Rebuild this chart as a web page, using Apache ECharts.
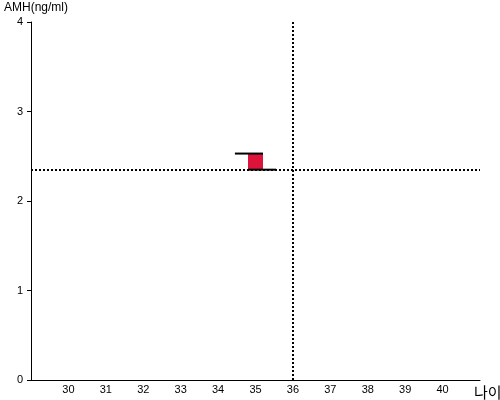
<!DOCTYPE html>
<html><head><meta charset="utf-8">
<script src="https://cdn.jsdelivr.net/npm/echarts@6/dist/echarts.min.js"></script>
<style>html,body{margin:0;padding:0;background:#fff}#c{width:500px;height:400px}</style>
</head><body><div id="c"></div>
<script>
const xTicks = [30,31,32,33,34,35,36,37,38,39,40];
const yTicks = [0,1,2,3,4];
const refAge = 36;
const refAMH = 2.35;
// red box: [ageStart, ageEnd, amhLow, amhHigh]
const boxes = [[34.8, 35.2, 2.35, 2.53]];
const topLine = [[34.45, 2.53], [35.2, 2.53]];
const bottomLine = [[34.8, 2.35], [35.55, 2.35]];

const chart = echarts.init(document.getElementById('c'), null, {renderer:'canvas'});
const font = 'Arial, "Liberation Sans", sans-serif';
chart.setOption({
  animation:false,
  grid:{left:31, right:20, top:22, bottom:20, containLabel:false, outerBoundsMode:'none'},
  xAxis:{
    type:'value', min:29, max:41, interval:1,
    name:'나이', nameLocation:'end', nameGap:-6,
    nameTextStyle:{color:'#000', fontSize:15, fontFamily:'"Noto Sans CJK KR", sans-serif', verticalAlign:'top', align:'left', padding:[5,0,0,0]},
    axisLine:{lineStyle:{color:'#000', width:1}},
    axisTick:{show:false},
    splitLine:{show:false},
    axisLabel:{color:'#000', fontSize:11, fontFamily:font, margin:4,
      formatter:v => xTicks.includes(v) ? String(v) : ''}
  },
  yAxis:{
    type:'value', min:0, max:4, interval:1,
    name:'AMH(ng/ml)', nameLocation:'end', nameGap:8,
    nameTextStyle:{color:'#000', fontSize:12, fontFamily:font, padding:[0,0,0,10]},
    axisLine:{show:true, lineStyle:{color:'#000', width:1}},
    axisTick:{show:true, length:4, lineStyle:{color:'#000'}},
    splitLine:{show:false},
    axisLabel:{color:'#000', fontSize:11, fontFamily:font, margin:8,
      formatter:v => yTicks.includes(v) ? String(v) : ''}
  },
  series:[
    {
      type:'custom',
      data:boxes,
      renderItem:(params, api) => {
        const p0 = api.coord([api.value(0), api.value(3)]);
        const p1 = api.coord([api.value(1), api.value(2)]);
        return {type:'rect', shape:{x:p0[0], y:p0[1], width:p1[0]-p0[0], height:p1[1]-p0[1]},
          style:{fill:'#DC143C'}};
      },
      z:3
    },
    {type:'line', data:topLine, symbol:'none', lineStyle:{color:'#000', width:2}, z:4},
    {type:'line', data:bottomLine, symbol:'none', lineStyle:{color:'#000', width:2}, z:4},
    {
      type:'line', data:[], symbol:'none',
      markLine:{
        silent:true, symbol:'none', label:{show:false},
        lineStyle:{color:'#000', type:[2,2], width:2},
        data:[{xAxis:refAge}, {yAxis:refAMH}]
      }
    }
  ]
});
</script></body></html>
